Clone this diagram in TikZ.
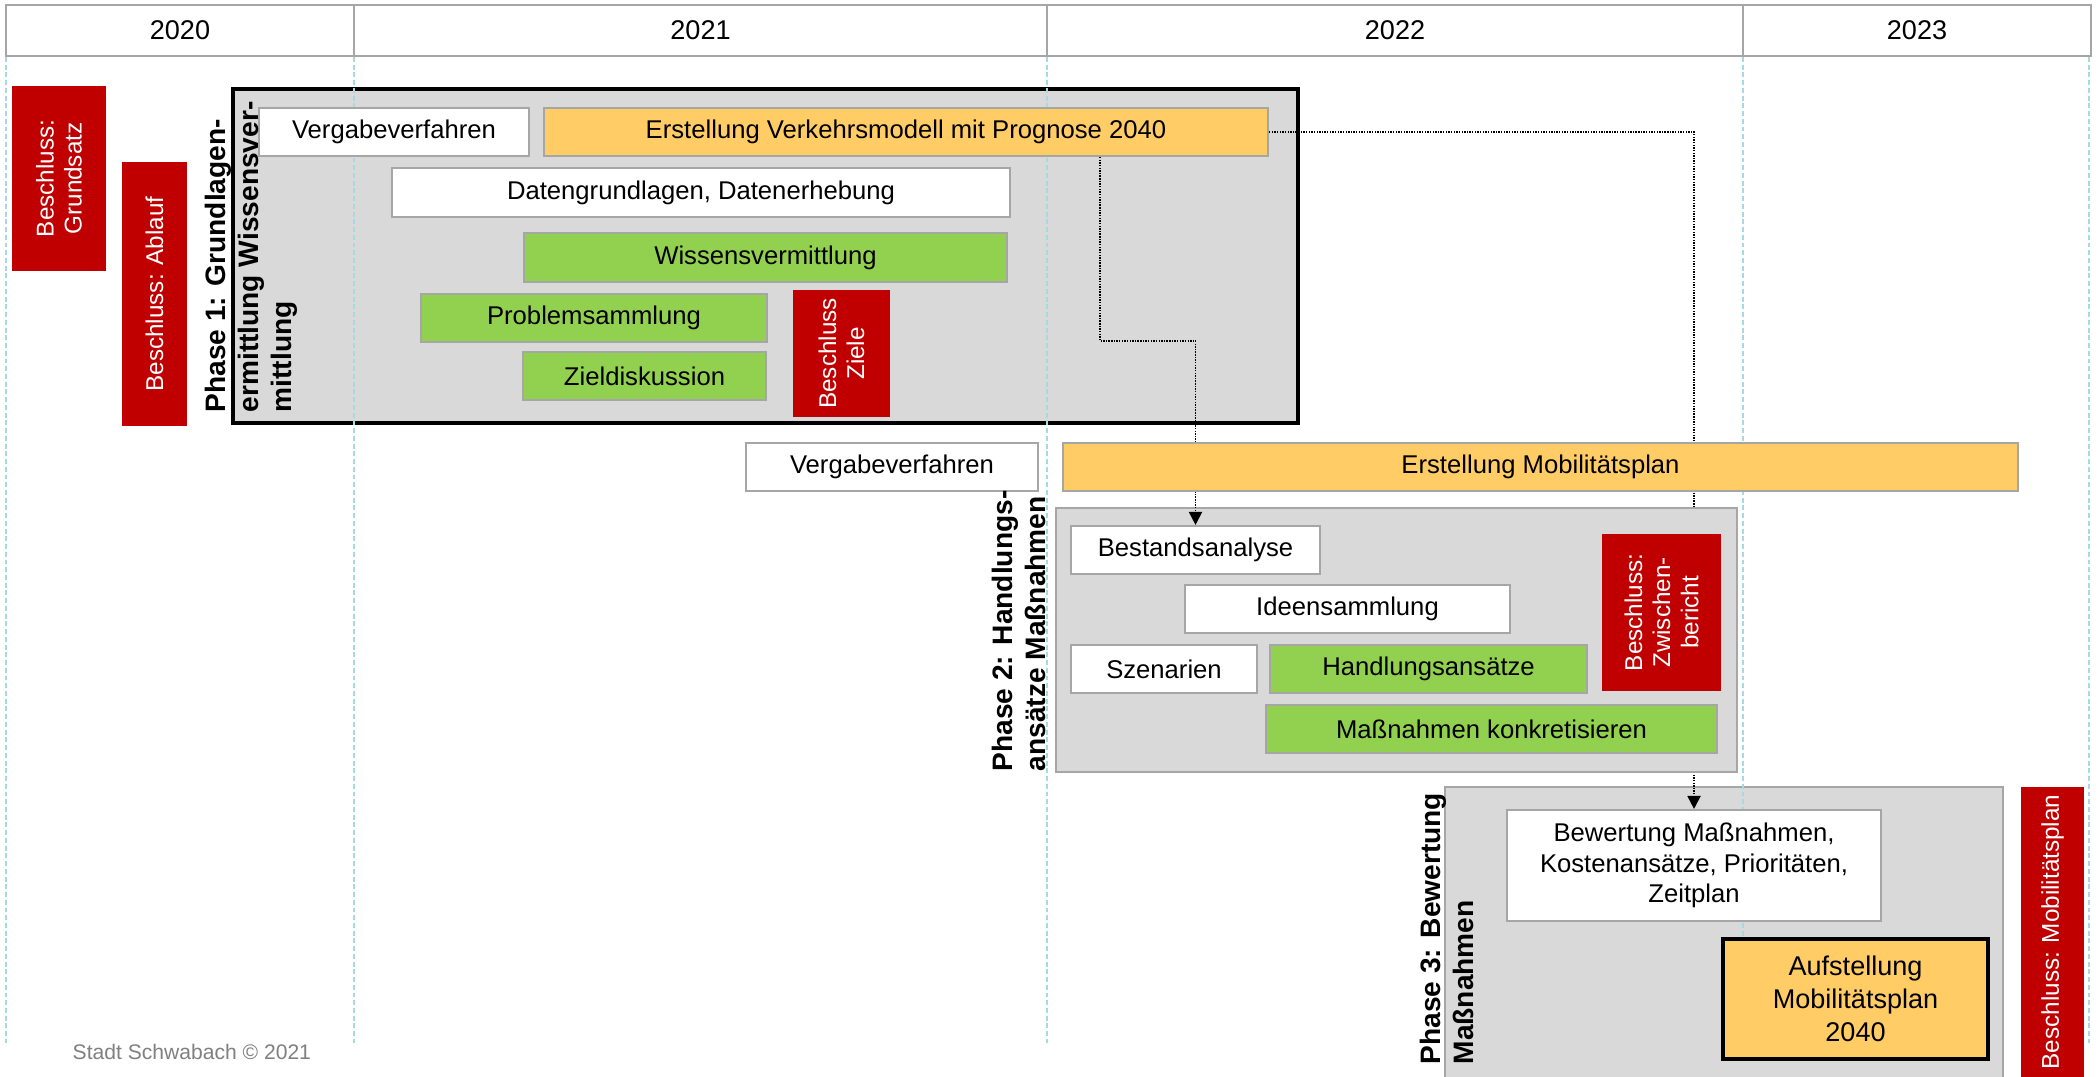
\documentclass[tikz,border=0pt]{standalone}
\usepackage{fontspec}
\setmainfont{Liberation Sans}
\usetikzlibrary{arrows.meta}
\definecolor{cred}{HTML}{C00000}
\definecolor{corange}{HTML}{FFCC66}
\definecolor{cgreen}{HTML}{92D050}
\definecolor{cgray}{HTML}{D9D9D9}
\definecolor{cline}{HTML}{A6A6A6}
\definecolor{cgrid}{HTML}{A8D8E0}
\definecolor{cfoot}{HTML}{808080}
\newcommand\drawbox[7]{%
 \pgfmathsetmacro\bxw{(#5-#3)*0.1}%
 \pgfmathsetmacro\bxh{(#6-#4)*0.1}%
 \pgfmathsetmacro\bxx{(#3+#5)/2}%
 \pgfmathsetmacro\bxy{(#4+#6)/2}%
 \node[#1, minimum width=\bxw mm, minimum height=\bxh mm] (#2) at (\bxx,\bxy) {#7};}
\newcommand\drawrbox[7]{%
 \pgfmathsetmacro\bxw{(#5-#3)*0.1}%
 \pgfmathsetmacro\bxh{(#6-#4)*0.1}%
 \pgfmathsetmacro\bxx{(#3+#5)/2}%
 \pgfmathsetmacro\bxy{(#4+#6)/2}%
 \node[#1, minimum width=\bxh mm, minimum height=\bxw mm] (#2) at (\bxx,\bxy) {#7};}
\tikzset{
 task/.style={draw=cline, line width=0.6pt, inner sep=1pt, align=center, font=\fontsize{7.3}{8.7}\selectfont},
 wbox/.style={task, fill=white},
 obox/.style={task, fill=corange},
 gbox/.style={task, fill=cgreen},
 rbox/.style={fill=cred, text=white, inner sep=1pt, align=center, rotate=90, font=\fontsize{6.9}{8}\selectfont},
 phasebox/.style={fill=cgray, draw=cline, line width=0.6pt, inner sep=0pt},
 plabel/.style={rotate=90, anchor=west, inner sep=0pt, align=left, font=\fontsize{8}{9.4}\selectfont\bfseries},
 gridline/.style={draw=cgrid, line width=0.45pt, dash pattern=on 1.4pt off 0.8pt},
 conn/.style={draw=black, line width=0.55pt, dash pattern=on 0.4pt off 0.35pt},
 tip/.style={-{Triangle[length=3.7pt,width=3.7pt]}},
 yearcell/.style={draw=cline, line width=0.6pt, inner sep=0pt, font=\fontsize{7.7}{9}\selectfont},
}
\begin{document}
\begin{tikzpicture}[x=0.1mm,y=-0.1mm]
\clip (0,0) rectangle (2100,1077);
\fill[white] (0,0) rectangle (2100,1077);
% header
\drawbox{yearcell}{y20}{6}{5}{354}{56}{2020}
\drawbox{yearcell}{y21}{354}{5}{1047}{56}{2021}
\drawbox{yearcell}{y22}{1047}{5}{1743}{56}{2022}
\drawbox{yearcell}{y23}{1743}{5}{2091}{56}{2023}
% phase boxes
\drawbox{phasebox, draw=black, line width=1.1pt}{p1}{233}{89}{1298}{423}{}
\drawbox{phasebox}{p3}{1445}{787}{2003}{1110}{}
% grid lines
\foreach \gx in {6,354,1047,1743,2089} \draw[gridline] (\gx,57) -- (\gx,1043);
% connectors (partly behind boxes)
\drawbox{obox}{vm}{544}{108}{1268}{156}{Erstellung Verkehrsmodell mit Prognose 2040}
\drawbox{wbox}{bew}{1507}{810}{1881}{921}{Bewertung Maßnahmen,\\Kostenansätze, Prioritäten,\\Zeitplan}
\draw[conn, tip] (vm.east) -| (bew.north);
\drawbox{phasebox}{p2}{1056}{508}{1737}{772}{}
\drawbox{wbox}{bst}{1071}{526}{1320}{574}{Bestandsanalyse}
\coordinate (k1) at (1100,341);
\draw[conn, tip] (k1 |- vm.south) -- (k1) -| (bst.north);
% phase 1 content
\drawbox{wbox}{vg1}{259}{108}{529}{156}{Vergabeverfahren}
\drawbox{wbox}{dg}{392}{168}{1010}{217}{Datengrundlagen, Datenerhebung}
\drawbox{gbox}{wv}{524}{233}{1007}{282}{Wissensvermittlung}
\drawbox{gbox}{ps}{421}{294}{767}{342}{Problemsammlung}
\drawbox{gbox}{zd}{523}{352}{766}{400}{Zieldiskussion}
\drawrbox{rbox}{bz}{793}{290}{890}{417}{Beschluss\\Ziele}
\node[plabel] (l1) at (251,413) {Phase 1: Grundlagen-\\ermittlung Wissensver-\\mittlung};
% red decisions left
\drawrbox{rbox}{bg}{12}{86}{106}{271}{Beschluss:\\Grundsatz}
\drawrbox{rbox}{ba}{122}{162}{187}{426}{Beschluss: Ablauf}
% phase 2
\drawbox{wbox}{vg2}{746}{443}{1038}{491}{Vergabeverfahren}
\drawbox{obox}{mp}{1063}{443}{2018}{491}{Erstellung Mobilitätsplan}
\drawbox{wbox}{ide}{1185}{585}{1510}{633}{Ideensammlung}
\drawbox{wbox}{sz}{1071}{645}{1257}{693}{Szenarien}
\drawbox{gbox}{ha}{1270}{645}{1587}{693}{Handlungsansätze}
\drawbox{gbox}{mk}{1266}{705}{1717}{753}{Maßnahmen konkretisieren}
\drawrbox{rbox}{bzw}{1602}{534}{1721}{691}{Beschluss:\\Zwischen-\\bericht}
\node[plabel] (l2) at (1019,772) {Phase 2: Handlungs-\\ansätze Maßnahmen};
% phase 3
\drawbox{obox, draw=black, line width=1.1pt, font=\fontsize{7.7}{9.4}\selectfont}{auf}{1723}{939}{1988}{1059}{Aufstellung\\Mobilitätsplan\\2040}
\node[plabel] (l3) at (1447,1065) {Phase 3: Bewertung\\Maßnahmen};
\drawrbox{rbox}{bmp}{2021}{787}{2084}{1077}{Beschluss: Mobilitätsplan}
% footer
\node[anchor=west, inner sep=0pt, text=cfoot, font=\fontsize{6}{7}\selectfont] (ft) at (72,1052) {Stadt Schwabach © 2021};
\end{tikzpicture}
\end{document}
